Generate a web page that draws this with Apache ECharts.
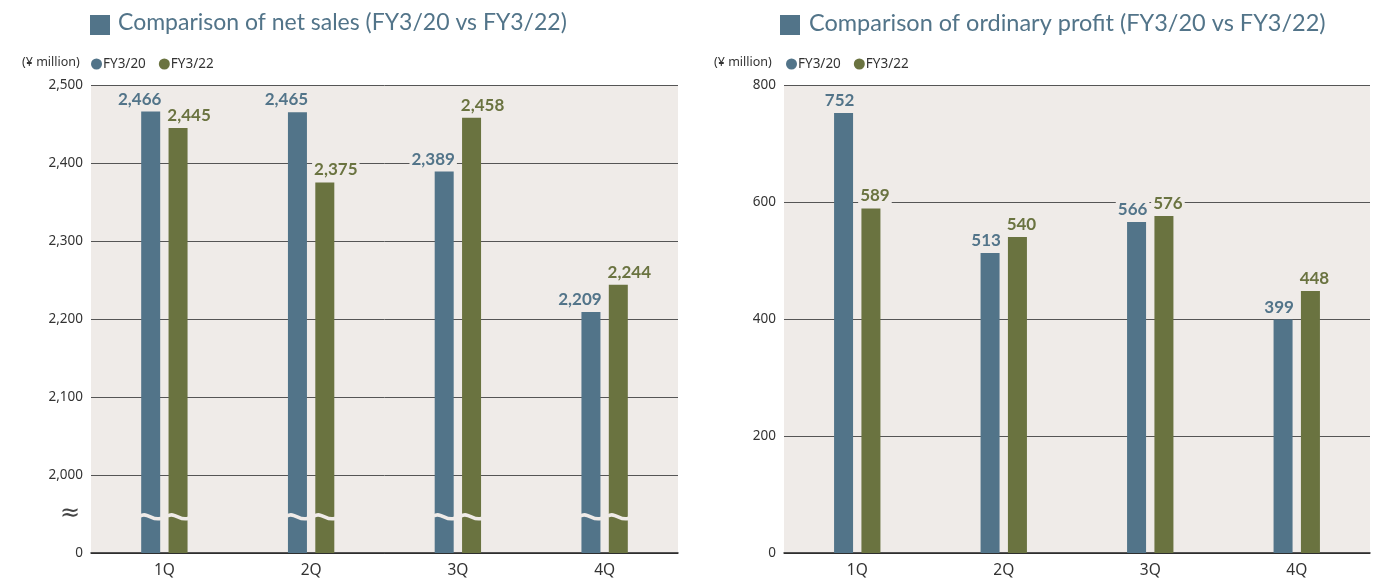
<!DOCTYPE html>
<html>
<head>
<meta charset="utf-8">
<script src="https://cdn.jsdelivr.net/npm/echarts@6/dist/echarts.min.js"></script>
<style>
    html, body { margin: 0; padding: 0; background: #fff; }
    #main { width: 1389px; height: 580px; }
</style>
</head>
<body>
<div id="main"></div>
<script>
"use strict";

// 四半期
const quarters = ['1Q', '2Q', '3Q', '4Q'];

// 売上高（百万円）
const salesFY20 = [2466, 2465, 2389, 2209];
const salesFY22 = [2445, 2375, 2458, 2244];

// 経常利益（百万円）
const profitFY20 = [752, 513, 566, 399];
const profitFY22 = [589, 540, 576, 448];

// 目盛
const salesTicks = [0, 2000, 2100, 2200, 2300, 2400, 2500];
const profitTicks = [0, 200, 400, 600, 800];

const BLUE = '#527489';
const GREEN = '#6a7340';
const PLOT_BG = '#efebe8';
const FONT = 'Lato, "Noto Sans", sans-serif';
const SMALL_FONT = '"Noto Sans", sans-serif';

// 売上グラフは 1,900 を 0 として表示する（省略軸）
const SALES_BASE = 1900;
const BREAK_AT = 1946;

const fmt = v => v.toLocaleString('en-US');

const chart = echarts.init(document.getElementById('main'));

const barLabel = (color, dx) => ({
    show: true,
    position: 'top',
    distance: 4,
    offset: [dx, 0],
    color: color,
    fontFamily: FONT,
    fontWeight: 'bold',
    fontSize: 17,
    backgroundColor: PLOT_BG,
    padding: [0, 2],
    formatter: p => fmt(p.value)
});

const axisY = (min, max, interval, labelFn) => ({
    type: 'value',
    min: min,
    max: max,
    interval: interval,
    axisLine: { show: false },
    axisTick: { show: false },
    axisLabel: {
        color: '#333',
        fontFamily: SMALL_FONT,
        fontSize: 13.5,
        margin: 8,
        formatter: labelFn
    },
    splitLine: { lineStyle: { color: '#555', width: 1 } }
});

const axisX = gridIndex => ({
    type: 'category',
    gridIndex: gridIndex,
    data: quarters,
    axisLine: { lineStyle: { color: '#222', width: 1.5 } },
    axisTick: { show: false },
    axisLabel: { color: '#333', fontFamily: SMALL_FONT, fontSize: 15.5, margin: 10 }
});

// 波線（省略記号）をバーの上に描く
const breakRender = (params, api) => {
    const c = api.coord([api.value(0), BREAK_AT]);
    const bw = 19, gap = 8.4;
    const x0 = c[0] - (bw * 2 + gap) / 2;
    const y = c[1];
    const wave = xa => ({
        type: 'path',
        shape: {
            pathData: 'M' + (xa - 1) + ',' + (y - 1) +
                ' C' + (xa + 6) + ',' + (y - 6) + ' ' + (xa + 12) + ',' + (y + 5) +
                ' ' + (xa + bw + 1) + ',' + (y + 1)
        },
        style: { fill: null, stroke: PLOT_BG, lineWidth: 3.5 }
    });
    return {
        type: 'group',
        children: [wave(x0), wave(x0 + bw + gap)]
    };
};

const option = {
    animation: false,
    textStyle: { fontFamily: FONT },
    grid: [
        { left: 91, right: 711, top: 85, bottom: 27, show: true, backgroundColor: PLOT_BG, borderWidth: 0 },
        { left: 784, right: 19, top: 85, bottom: 27, show: true, backgroundColor: PLOT_BG, borderWidth: 0 }
    ],
    legend: [0, 1].map(i => ({
        left: i === 0 ? 91 : 786,
        top: 57,
        icon: 'circle',
        itemWidth: 11,
        itemHeight: 11,
        itemGap: 13,
        padding: 0,
        data: ['FY3/20', 'FY3/22'],
        textStyle: { color: '#333', fontFamily: SMALL_FONT, fontSize: 13.5, padding: [0, 0, 0, -4] }
    })),
    graphic: [
        { type: 'rect', shape: { x: 90, y: 15, width: 20, height: 20 }, style: { fill: BLUE } },
        { type: 'text', left: 118, top: 11, style: { text: 'Comparison of net sales (FY3/20 vs FY3/22)', fill: BLUE, font: '23px ' + FONT } },
        { type: 'rect', shape: { x: 780, y: 15, width: 20, height: 20 }, style: { fill: BLUE } },
        { type: 'text', left: 809, top: 11, style: { text: 'Comparison of ordinary profit (FY3/20 vs FY3/22)', fill: BLUE, font: '23.5px ' + FONT } },
        { type: 'text', left: 22, top: 56, style: { text: '(¥ million)', fill: '#333', font: '12.5px ' + SMALL_FONT } },
        { type: 'text', left: 714, top: 56, style: { text: '(¥ million)', fill: '#333', font: '12.5px ' + SMALL_FONT } },
        { type: 'text', left: 60, top: 502, style: { text: '≈', fill: '#444', font: '24px "DejaVu Sans"' } }
    ],
    xAxis: [axisX(0), axisX(1)],
    yAxis: [
        Object.assign(axisY(SALES_BASE, 2500, 100, v => {
            if (v === SALES_BASE) return '0';
            return salesTicks.indexOf(v) >= 0 ? fmt(v) : '';
        }), { gridIndex: 0 }),
        Object.assign(axisY(0, 800, 200, v => profitTicks.indexOf(v) >= 0 ? fmt(v) : ''), { gridIndex: 1 })
    ],
    series: [
        {
            type: 'bar', name: 'FY3/20', xAxisIndex: 0, yAxisIndex: 0,
            data: salesFY20, barWidth: 19, barGap: '44%',
            itemStyle: { color: BLUE }, label: barLabel(BLUE, -11)
        },
        {
            type: 'bar', name: 'FY3/22', xAxisIndex: 0, yAxisIndex: 0,
            data: salesFY22, barWidth: 19,
            itemStyle: { color: GREEN }, label: barLabel(GREEN, 11)
        },
        {
            type: 'custom', xAxisIndex: 0, yAxisIndex: 0,
            data: quarters.map((q, i) => [i]),
            renderItem: breakRender, z: 5, silent: true
        },
        {
            type: 'bar', name: 'FY3/20', xAxisIndex: 1, yAxisIndex: 1,
            data: profitFY20, barWidth: 19, barGap: '44%',
            itemStyle: { color: BLUE }, label: barLabel(BLUE, -4)
        },
        {
            type: 'bar', name: 'FY3/22', xAxisIndex: 1, yAxisIndex: 1,
            data: profitFY22, barWidth: 19,
            itemStyle: { color: GREEN }, label: barLabel(GREEN, 4)
        }
    ]
};

chart.setOption(option);
</script>
</body>
</html>
